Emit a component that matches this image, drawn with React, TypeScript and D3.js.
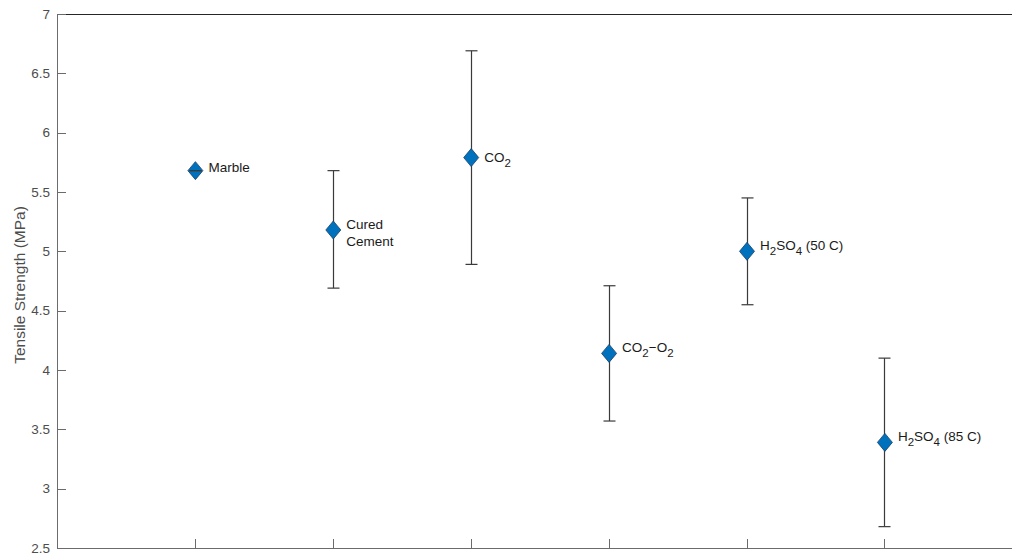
import React, { useRef, useEffect } from 'react';
import * as d3 from 'd3';

// values
const samples = ['Marble', 'Cured Cement', 'CO2', 'CO2-O2', 'H2SO4 (50 C)', 'H2SO4 (85 C)'];
const strength = [5.68, 5.18, 5.79, 4.14, 5.0, 3.39];
const upper = [5.68, 5.68, 6.69, 4.71, 5.45, 4.1];
const lower = [5.68, 4.69, 4.89, 3.57, 4.55, 2.68];
const yTicks = [2.5, 3, 3.5, 4, 4.5, 5, 5.5, 6, 6.5, 7];

// label pieces: [text, isSubscript]
const labelParts: [string, boolean][][][] = [
    [[['Marble', false]]],
    [[['Cured', false]], [['Cement', false]]],
    [[['CO', false], ['2', true]]],
    [[['CO', false], ['2', true], ['\u2212O', false], ['2', true]]],
    [[['H', false], ['2', true], ['SO', false], ['4', true], [' (50 C)', false]]],
    [[['H', false], ['2', true], ['SO', false], ['4', true], [' (85 C)', false]]],
];

const W = 1012;
const H = 556;
const left = 57, top = 14, bottom = 548;

const App = () => {
    const ref = useRef<SVGSVGElement>(null);

    useEffect(() => {
        const svg = d3.select(ref.current);
        svg.selectAll('*').remove();

        const x = d3.scaleLinear().domain([0, 7]).range([left, left + 137.9 * 7]);
        const y = d3.scaleLinear().domain([2.5, 7]).range([bottom, top]);
        const font = 'Liberation Sans, Arial, sans-serif';
        const axisCol = '#262626';
        const tickCol = '#6b6b6b';

        // box (right side runs past the window)
        svg.append('line').attr('x1', left).attr('x2', x(7)).attr('y1', top + 0.5).attr('y2', top + 0.5)
            .attr('stroke', axisCol);
        svg.append('line').attr('x1', left).attr('x2', x(7)).attr('y1', bottom + 0.5).attr('y2', bottom + 0.5)
            .attr('stroke', tickCol);
        svg.append('line').attr('x1', left + 0.5).attr('x2', left + 0.5).attr('y1', top).attr('y2', bottom + 1)
            .attr('stroke', tickCol);

        // y ticks + labels
        const yt = svg.append('g');
        yTicks.forEach(t => {
            yt.append('line').attr('x1', left).attr('x2', left + 9)
                .attr('y1', Math.round(y(t)) + 0.5).attr('y2', Math.round(y(t)) + 0.5)
                .attr('stroke', tickCol);
            yt.append('text').attr('x', left - 7).attr('y', y(t)).attr('dy', '0.35em')
                .attr('text-anchor', 'end').attr('font-family', font).attr('font-size', 13.5)
                .attr('fill', '#4d4d4d').text(String(t));
        });

        // x ticks (no labels)
        d3.range(1, 7).forEach(i => {
            svg.append('line').attr('x1', Math.round(x(i)) + 0.5).attr('x2', Math.round(x(i)) + 0.5)
                .attr('y1', bottom).attr('y2', bottom - 9).attr('stroke', tickCol);
        });

        // y axis title
        svg.append('text')
            .attr('transform', `translate(25, 285) rotate(-90)`)
            .attr('text-anchor', 'middle').attr('font-family', font).attr('font-size', 15.5)
            .attr('fill', '#4d4d4d').text('Tensile Strength (MPa)');

        // error bar stems
        const eb = svg.append('g').attr('stroke', '#3a3a3a').attr('stroke-width', 1.2);
        samples.forEach((_, i) => {
            const cx = Math.round(x(i + 1)) + 0.5;
            eb.append('line').attr('x1', cx).attr('x2', cx).attr('y1', y(upper[i])).attr('y2', y(lower[i]));
        });

        // diamond markers
        samples.forEach((_, i) => {
            const cx = x(i + 1) + 0.5, cy = y(strength[i]);
            const dx = 7.5, dy = 9;
            svg.append('path')
                .attr('d', `M${cx},${cy - dy}L${cx + dx},${cy}L${cx},${cy + dy}L${cx - dx},${cy}Z`)
                .attr('fill', '#0072BD').attr('stroke', '#1c3f66').attr('stroke-width', 0.8);
        });

        // caps on top
        const caps = svg.append('g').attr('stroke', '#3a3a3a').attr('stroke-width', 1.2);
        samples.forEach((_, i) => {
            const cx = Math.round(x(i + 1)) + 0.5;
            [upper[i], lower[i]].forEach(v => {
                caps.append('line').attr('x1', cx - 6).attr('x2', cx + 6).attr('y1', y(v)).attr('y2', y(v));
            });
        });

        // labels
        const baseShift = [1.5, -1, 4, -1, -1, -1];
        samples.forEach((_, i) => {
            const lines = labelParts[i];
            const lx = x(i + 1) + 13.5;
            const cy = y(strength[i]) + baseShift[i];
            lines.forEach((parts, li) => {
                const t = svg.append('text').attr('x', lx).attr('y', cy + li * 17)
                    .attr('font-family', font).attr('font-size', 13.5).attr('fill', '#1a1a1a');
                let sub = false;
                parts.forEach(([s, isSub]) => {
                    const ts = t.append('tspan').text(s);
                    if (isSub) ts.attr('font-size', 11.5);
                    if (isSub && !sub) { ts.attr('dy', 5); sub = true; }
                    else if (!isSub && sub) { ts.attr('dy', -5); sub = false; }
                });
            });
        });
    }, []);

    return (
        <svg ref={ref} width={W} height={H} style={{ position: 'absolute', left: 0, top: 0, background: '#fff' }} />
    );
};

export default App;
